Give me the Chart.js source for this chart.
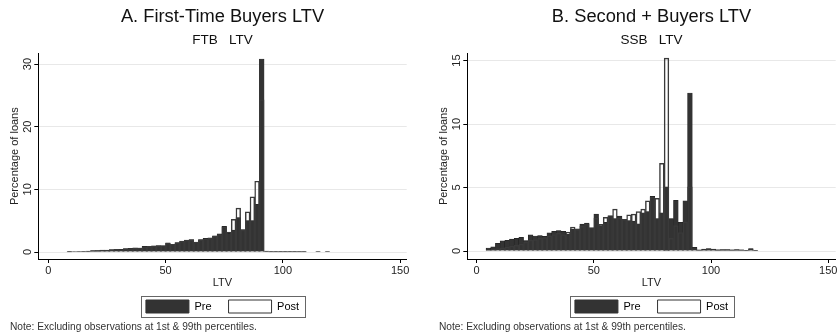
<!DOCTYPE html>
<html>
<head>
<meta charset="utf-8">
<script src="https://cdn.jsdelivr.net/npm/chart.js@4.4.1/dist/chart.umd.min.js"></script>
<style>
  html, body { margin: 0; padding: 0; background: #fff; overflow: hidden; }
  #wrap { position: relative; width: 839px; height: 335px; overflow: hidden; }
  canvas { position: absolute; top: 0; }
  #c1 { left: 0; }
  #c2 { left: 429px; }
</style>
</head>
<body>
<div id="wrap">
  <canvas id="c1" width="410" height="335"></canvas>
  <canvas id="c2" width="410" height="335"></canvas>
</div>
<script>
// bin centres (2-point LTV bins) and percentage of loans
const ftbLtv  = [9,11,13,15,17,19,21,23,25,27,29,31,33,35,37,39,41,43,45,47,49,51,53,55,57,59,61,63,65,67,69,71,73,75,77,79,81,83,85,87,89,91,93,95,97,99,101,103,105,107,109,115,119];
const ftbPre  = [0.05,0.08,0.1,0.1,0.15,0.25,0.22,0.3,0.28,0.4,0.4,0.42,0.55,0.58,0.68,0.62,0.9,0.88,1.0,1.05,1.0,1.45,1.15,1.5,1.75,1.9,2.0,1.5,2.0,2.2,2.25,2.6,2.9,4.1,3.0,3.5,5.5,3.6,5.0,5.0,7.6,30.8,0.15,0.03,0.03,0.03,0.03,0.06,0.06,0.05,0.05,0.05,0.05];
const ftbPost = [0.03,0.05,0.08,0.1,0.12,0.2,0.25,0.28,0.3,0.35,0.42,0.4,0.5,0.55,0.6,0.65,0.85,0.9,0.95,1.0,1.05,1.4,1.25,1.45,1.7,1.85,1.95,1.6,1.95,2.1,2.2,2.55,2.8,4.0,3.2,5.2,7.0,3.5,6.4,8.8,11.3,24.3,0.1,0.12,0.12,0.12,0.1,0.03,0.03,0.02,0.02,0,0];

const ssbLtv  = [5,7,9,11,13,15,17,19,21,23,25,27,29,31,33,35,37,39,41,43,45,47,49,51,53,55,57,59,61,63,65,67,69,71,73,75,77,79,81,83,85,87,89,91,93,95,97,99,101,103,105,107,109,111,113,115,117,119];
const ssbPre  = [0.24,0.32,0.6,0.8,0.85,0.93,1.0,1.07,0.82,1.28,1.18,1.22,1.15,1.44,1.55,1.6,1.55,1.35,1.72,1.75,2.12,2.2,1.8,2.9,2.0,2.25,2.75,2.55,2.75,2.45,2.4,2.35,2.15,3.0,3.1,4.3,2.55,3.0,5.05,2.55,4.0,2.25,3.95,12.45,0.28,0.08,0.15,0.2,0.15,0.1,0.12,0.12,0.1,0.12,0.1,0.05,0.2,0.05];
const ssbPost = [0.1,0.15,0.2,0.25,0.3,0.38,0.45,0.55,0.7,0.85,0.9,1.0,1.05,1.2,1.3,1.4,1.3,1.5,1.88,1.7,1.95,2.1,1.85,2.6,2.1,2.65,2.8,3.3,2.6,2.5,2.85,2.9,3.1,3.3,3.95,4.25,4.15,6.9,15.2,1.0,2.0,1.45,2.3,5.05,0.2,0.1,0.12,0.15,0.12,0.1,0.1,0.1,0.08,0.1,0.08,0.05,0.12,0.05];

const xTicks = [0, 50, 100, 150];
const ftbYTicks = [0, 10, 20, 30];
const ssbYTicks = [0, 5, 10, 15];
const seriesNames = ['Pre', 'Post'];
const noteText = 'Note: Excluding observations at 1st & 99th percentiles.';

Chart.defaults.font.family = '"Liberation Sans", Arial, Helvetica, sans-serif';
Chart.defaults.color = '#222';

// rotated y tick labels, legend frame and the note line
const panelDecor = {
  id: 'panelDecor',
  afterDraw(chart) {
    const ctx = chart.ctx;
    const y = chart.scales.y;
    ctx.save();
    ctx.fillStyle = '#222';
    ctx.font = '11px "Liberation Sans", Arial, sans-serif';
    ctx.textAlign = 'center';
    ctx.textBaseline = 'middle';
    y.ticks.forEach(t => {
      ctx.save();
      ctx.translate(y.right - 10, y.getPixelForValue(t.value));
      ctx.rotate(-Math.PI / 2);
      ctx.fillText(String(t.value), 0, 0);
      ctx.restore();
    });

    const boxes = chart.legend.legendHitBoxes;
    if (boxes && boxes.length) {
      const first = boxes[0];
      const last = boxes[boxes.length - 1];
      const l = Math.round(first.left - 4.5) + 0.5;
      const r = Math.round(last.left + last.width + 6) + 0.5;
      const t = Math.round(first.top - 4) + 0.5;
      const b = Math.round(first.top + first.height + 4) + 0.5;
      ctx.strokeStyle = '#666';
      ctx.lineWidth = 1;
      ctx.strokeRect(l, t, r - l, b - t);
    }

    ctx.textAlign = 'left';
    ctx.font = '10.2px "Liberation Sans", Arial, sans-serif';
    ctx.fillStyle = '#333';
    ctx.fillText(noteText, 10, 327);
    ctx.restore();
  }
};

function makePanel(id, title, subtitle, ltv, pre, post, yTicks, xMin, xMax, yMin, yMax) {
  const data = {
    datasets: [
      {
        label: seriesNames[0],
        data: ltv.map((v, i) => ({ x: v, y: pre[i] })),
        backgroundColor: '#333333',
        borderColor: '#1c1c1c',
        borderWidth: 0.5,
        grouped: false,
        order: 2,
        barPercentage: 1,
        categoryPercentage: 1
      },
      {
        label: seriesNames[1],
        data: ltv.map((v, i) => ({ x: v, y: post[i] })),
        backgroundColor: 'rgba(255,255,255,0)',
        borderColor: '#3a3a3a',
        borderWidth: 0.8,
        grouped: false,
        order: 1,
        barPercentage: 1,
        categoryPercentage: 1
      }
    ]
  };

  const config = {
    type: 'bar',
    data: data,
    plugins: [panelDecor],
    options: {
      responsive: false,
      animation: false,
      devicePixelRatio: 1,
      layout: { padding: { left: 0, right: 3.3, top: 0, bottom: 12 } },
      plugins: {
        tooltip: { enabled: false },
        title: {
          display: true,
          text: title,
          fullSize: false,
          color: '#111',
          font: { size: 18.3, weight: 'normal' },
          padding: { top: 6, bottom: 0 }
        },
        subtitle: {
          display: true,
          text: subtitle,
          fullSize: false,
          color: '#111',
          font: { size: 13.5, weight: 'normal' },
          padding: { top: 4.4, bottom: 4.8 }
        },
        legend: {
          position: 'bottom',
          fullSize: false,
          labels: {
            boxWidth: 43,
            boxHeight: 13,
            padding: 17,
            color: '#222',
            font: { size: 11 },
            generateLabels: chart => chart.data.datasets.map((ds, i) => ({
              text: ds.label,
              fillStyle: i === 0 ? '#333333' : '#ffffff',
              strokeStyle: '#333333',
              lineWidth: 1,
              hidden: false,
              datasetIndex: i
            }))
          }
        }
      },
      scales: {
        x: {
          type: 'linear',
          min: xMin,
          max: xMax,
          offset: false,
          afterBuildTicks: s => { s.ticks = xTicks.map(v => ({ value: v })); },
          afterFit: s => { s.height = 24; s.paddingLeft = 0; s.paddingRight = 0; },
          border: { color: '#000', width: 1 },
          grid: { offset: false, drawOnChartArea: false, drawTicks: true, tickLength: 4, tickColor: '#000' },
          ticks: { padding: 1, color: '#222', font: { size: 11 }, maxRotation: 0 },
          title: { display: true, text: 'LTV', color: '#222', font: { size: 11 }, padding: { top: 0, bottom: -6.1 } }
        },
        y: {
          min: yMin,
          max: yMax,
          afterBuildTicks: s => { s.ticks = yTicks.map(v => ({ value: v })); },
          afterFit: s => { s.width = 38.3; s.paddingTop = 0; s.paddingBottom = 0; },
          border: { color: '#000', width: 1 },
          grid: { color: '#e8e8e8', lineWidth: 1, drawTicks: true, tickLength: 4, tickColor: '#000' },
          ticks: { display: false },
          title: { display: true, text: 'Percentage of loans', color: '#222', font: { size: 11 }, padding: { top: 8.4, bottom: 0 } }
        }
      }
    }
  };
  return new Chart(document.getElementById(id), config);
}

const chartA = makePanel('c1', 'A. First-Time Buyers LTV', 'FTB   LTV', ftbLtv, ftbPre, ftbPost, ftbYTicks, -4.26, 152.8, -1.11, 31.7);
const chartB = makePanel('c2', 'B. Second + Buyers LTV', 'SSB   LTV', ssbLtv, ssbPre, ssbPost, ssbYTicks, -4.0, 153.2, -0.63, 15.57);
</script>
</body>
</html>
